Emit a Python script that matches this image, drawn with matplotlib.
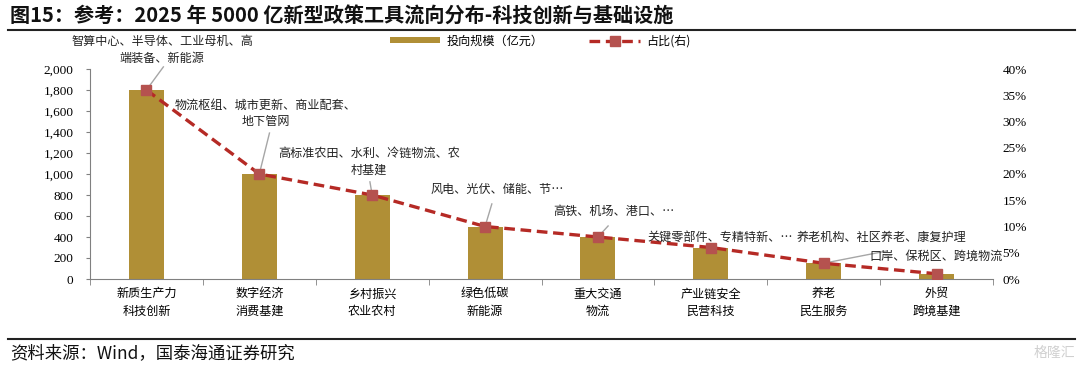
import matplotlib
matplotlib.use('Agg')
import matplotlib.pyplot as plt
from matplotlib.lines import Line2D

plt.rcParams['font.family'] = ['Noto Sans CJK SC', 'DejaVu Sans']

# data
categories = ['新质生产力\n科技创新', '数字经济\n消费基建', '乡村振兴\n农业农村', '绿色低碳\n新能源',
              '重大交通\n物流', '产业链安全\n民营科技', '养老\n民生服务', '外贸\n跨境基建']
invest     = [1800, 1000, 800, 500, 400, 300, 150, 50]
share      = [0.36, 0.20, 0.16, 0.10, 0.08, 0.06, 0.03, 0.01]
notes      = ['智算中心、半导体、工业母机、高\n端装备、新能源',
              '物流枢组、城市更新、商业配套、\n地下管网',
              '高标准农田、水利、冷链物流、农\n村基建',
              '风电、光伏、储能、节…',
              '高铁、机场、港口、…',
              '关键零部件、专精特新、…',
              '养老机构、社区养老、康复护理',
              '口岸、保税区、跨境物流']
# label positions (x index, share units) and leader line ends
note_pos   = [(0.14, 0.436), (1.06, 0.316), (1.97, 0.223), (3.11, 0.171),
              (4.14, 0.128), (5.08, 0.080), (6.51, 0.080), (7.00, 0.044)]
leader_end = [(0.15, 0.404), (1.09, 0.278), (1.98, 0.185), (3.06, 0.143),
              (4.09, 0.101), None, (6.55, 0.053), None]

bar_c  = '#B08F36'
line_c = '#B52A25'
mark_c = '#B5524F'
grey   = '#808080'
fs     = 8.7

fig = plt.figure(figsize=(10.8, 3.68), dpi=100)
ax = fig.add_axes([90/1080, 1-279/368, (993-90)/1080, 210/368])
ax2 = ax.twinx()

x = list(range(len(categories)))
bars = ax.bar(x, invest, width=0.31, color=bar_c, label='投向规模（亿元）', zorder=2)
ln, = ax2.plot(x, share, color=line_c, lw=2.4, linestyle=(0, (3.2, 1.7)),
               marker='s', markersize=7, markerfacecolor=mark_c, markeredgecolor=mark_c,
               label='占比(右)', zorder=3)

ax.set_xlim(-0.5, len(categories) - 0.5)
ax.set_ylim(0, 2000)
ax.set_yticks(range(0, 2001, 200))
ax.set_yticklabels(['{:,}'.format(v) for v in range(0, 2001, 200)],
                   family=['Liberation Serif', 'DejaVu Serif'], fontsize=9.5)
ax2.set_ylim(0, 0.40)
ax2.set_yticks([i * 0.05 for i in range(9)])
ax2.set_yticklabels(['{}%'.format(i * 5) for i in range(9)],
                    family=['Liberation Serif', 'DejaVu Serif'], fontsize=9.5)

ax.set_xticks(x)
ax.set_xticklabels(categories, fontsize=fs, linespacing=1.45)
ax.set_xticks([i + 0.5 for i in range(-1, len(categories))], minor=True)
ax.tick_params(axis='x', which='major', length=0, pad=6)
ax.tick_params(axis='x', which='minor', length=4, color=grey, direction='out')
ax.tick_params(axis='y', length=3, color=grey, pad=9)
ax2.tick_params(axis='y', length=0, pad=7)

for a in (ax, ax2):
    for s in ('top', 'right'):
        a.spines[s].set_visible(False)
ax2.spines['left'].set_visible(False)
ax2.spines['bottom'].set_visible(False)
ax.spines['left'].set_color(grey)
ax.spines['bottom'].set_color(grey)

# annotations
for i, (txt, pos, end) in enumerate(zip(notes, note_pos, leader_end)):
    ax2.text(pos[0], pos[1], txt, ha='center', va='center', fontsize=fs,
             color='#222222', linespacing=1.35, clip_on=False, zorder=4)
    if end is not None:
        ax2.plot([x[i], end[0]], [share[i], end[1]], color='#A6A6A6', lw=1,
                 clip_on=False, zorder=2.5)

leg = fig.legend(handles=[bars, ln], loc='center', bbox_to_anchor=(540/1080, 1-41/368),
                 ncol=2, frameon=False, fontsize=fs, handlelength=4.2, handleheight=0.45,
                 handletextpad=0.5, columnspacing=3.8)

# title, rules, source
fig.text(10/1080, 1-16/368, '图15：参考：2025 年 5000 亿新型政策工具流向分布-科技创新与基础设施',
         fontsize=14.5, fontweight='bold', va='center', ha='left', color='#111111')
fig.add_artist(Line2D([8/1080, 1075/1080], [1-30/368, 1-30/368], color='#222222', lw=1.5))
fig.add_artist(Line2D([8/1080, 1075/1080], [1-339/368, 1-339/368], color='#222222', lw=1.5))
fig.text(10/1080, 1-353/368, '资料来源：Wind，国泰海通证券研究', fontsize=12.5,
         va='center', ha='left', color='#111111')
fig.text(1075/1080, 1-353/368, '格隆汇', fontsize=10, va='center', ha='right',
         color='#D0D0D0')

fig.savefig('out.png', dpi=100)
